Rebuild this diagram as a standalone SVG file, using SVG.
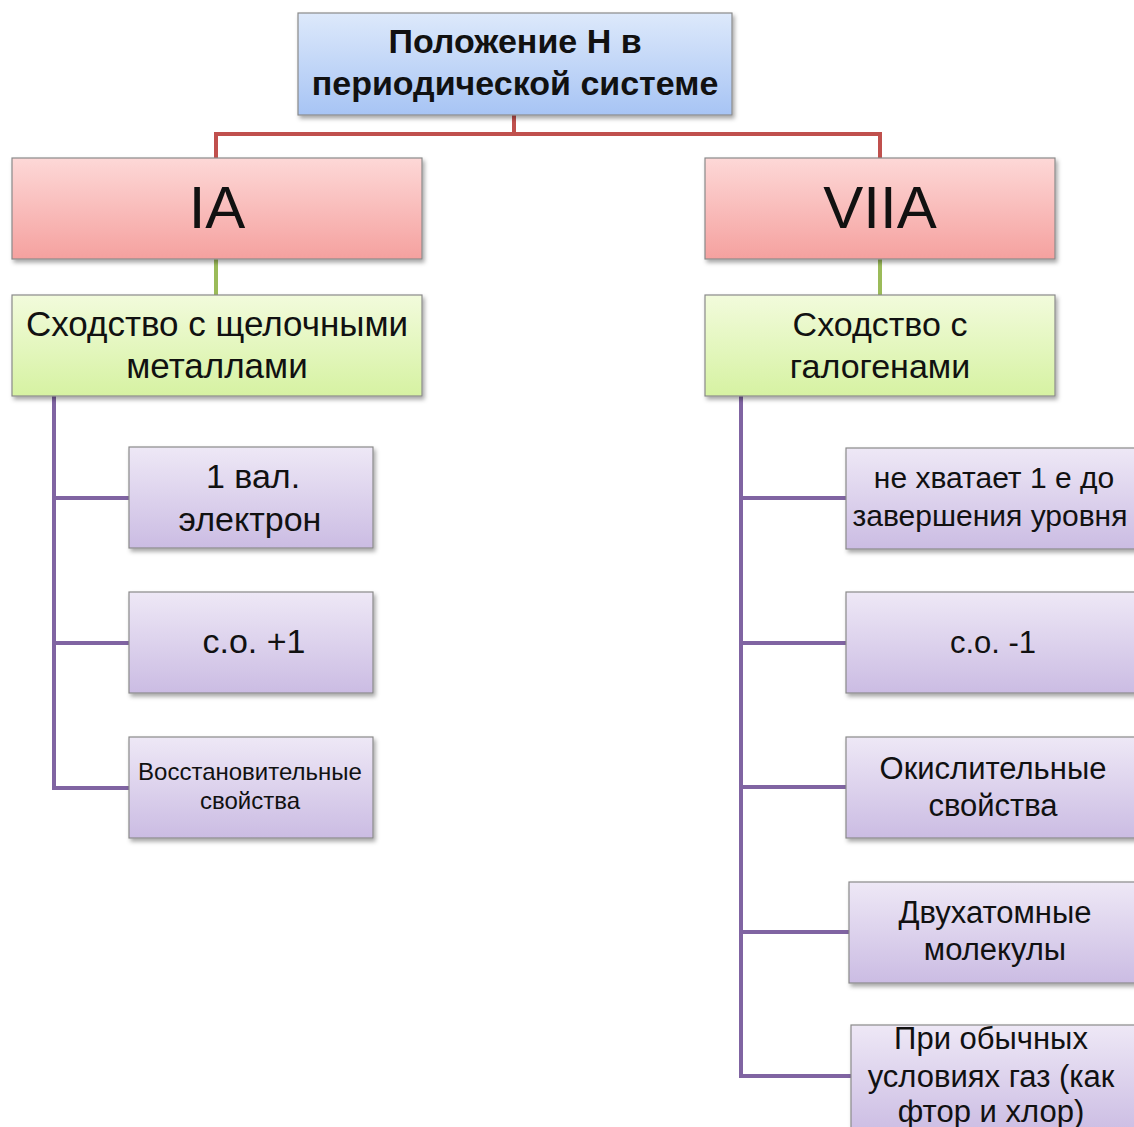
<svg xmlns="http://www.w3.org/2000/svg" width="1134" height="1127" viewBox="0 0 1134 1127">
<defs>
<linearGradient id="gBlue" x1="0" y1="0" x2="0" y2="1"><stop offset="0" stop-color="#dde9fb"/><stop offset="1" stop-color="#a7c4f4"/></linearGradient>
<linearGradient id="gRed" x1="0" y1="0" x2="0" y2="1"><stop offset="0" stop-color="#fdd8d7"/><stop offset="1" stop-color="#f5a19f"/></linearGradient>
<linearGradient id="gGreen" x1="0" y1="0" x2="0" y2="1"><stop offset="0" stop-color="#f2fbdc"/><stop offset="1" stop-color="#d6f2a2"/></linearGradient>
<linearGradient id="gPurple" x1="0" y1="0" x2="0" y2="1"><stop offset="0" stop-color="#eee8f6"/><stop offset="1" stop-color="#cbbce3"/></linearGradient>
<filter id="sh" x="-5%" y="-5%" width="115%" height="120%"><feDropShadow dx="2" dy="3" stdDeviation="2" flood-color="#000" flood-opacity="0.35"/></filter>
</defs>
<style>
.box{stroke:#8a8a8a;stroke-width:1.2;filter:url(#sh)}
.t{font-family:"Liberation Sans",Arial,sans-serif;fill:#111;text-anchor:middle}
.b{font-weight:bold}
.red{stroke:#c0504d;stroke-width:4;fill:none}
.grn{stroke:#9bbb59;stroke-width:4;fill:none}
.pur{stroke:#8064a2;stroke-width:4;fill:none}
</style>
<g id="connectors">
<polyline class="red" points="514,115 514,134 216,134 216,158"/>
<polyline class="red" points="514,134 880,134 880,158"/>
<line class="grn" x1="216" y1="259" x2="216" y2="295"/>
<line class="grn" x1="880" y1="259" x2="880" y2="295"/>
<polyline class="pur" points="54,396 54,788 129,788"/>
<line class="pur" x1="54" y1="498" x2="129" y2="498"/>
<line class="pur" x1="54" y1="643" x2="129" y2="643"/>
<polyline class="pur" points="741,396 741,1076 851,1076"/>
<line class="pur" x1="741" y1="498" x2="846" y2="498"/>
<line class="pur" x1="741" y1="643" x2="846" y2="643"/>
<line class="pur" x1="741" y1="787" x2="846" y2="787"/>
<line class="pur" x1="741" y1="932" x2="849" y2="932"/>
</g>
<g id="root">
<rect class="box" x="298" y="13" width="434" height="102" fill="url(#gBlue)"/>
<text class="t b" x="515" y="53" font-size="34">Положение Н в</text>
<text class="t b" x="515" y="95" font-size="34">периодической системе</text>
</g>
<g id="ia">
<rect class="box" x="12" y="158" width="410" height="101" fill="url(#gRed)"/>
<text class="t" x="217" y="228" font-size="60">IA</text>
</g>
<g id="viia">
<rect class="box" x="705" y="158" width="350" height="101" fill="url(#gRed)"/>
<text class="t" x="880" y="228" font-size="60">VIIA</text>
</g>
<g id="alkali">
<rect class="box" x="12" y="295" width="410" height="101" fill="url(#gGreen)"/>
<text class="t" x="217" y="336" font-size="35">Сходство с щелочными</text>
<text class="t" x="217" y="378" font-size="35">металлами</text>
</g>
<g id="halogen">
<rect class="box" x="705" y="295" width="350" height="101" fill="url(#gGreen)"/>
<text class="t" x="880" y="336" font-size="34">Сходство с</text>
<text class="t" x="880" y="378" font-size="34">галогенами</text>
</g>
<g id="l1">
<rect class="box" x="129" y="447" width="244" height="101" fill="url(#gPurple)"/>
<text class="t" x="253" y="488" font-size="34">1 вал.</text>
<text class="t" x="250" y="531" font-size="34">электрон</text>
</g>
<g id="l2">
<rect class="box" x="129" y="592" width="244" height="101" fill="url(#gPurple)"/>
<text class="t" x="254" y="653" font-size="34">с.о. +1</text>
</g>
<g id="l3">
<rect class="box" x="129" y="737" width="244" height="101" fill="url(#gPurple)"/>
<text class="t" x="250" y="780" font-size="24">Восстановительные</text>
<text class="t" x="250" y="809" font-size="24">свойства</text>
</g>
<g id="r1">
<rect class="box" x="846" y="448" width="296" height="101" fill="url(#gPurple)"/>
<text class="t" x="994" y="488" font-size="30">не хватает 1 е до</text>
<text class="t" x="990" y="526" font-size="30">завершения уровня</text>
</g>
<g id="r2">
<rect class="box" x="846" y="592" width="296" height="101" fill="url(#gPurple)"/>
<text class="t" x="993" y="653" font-size="31">с.о. -1</text>
</g>
<g id="r3">
<rect class="box" x="846" y="737" width="296" height="101" fill="url(#gPurple)"/>
<text class="t" x="993" y="779" font-size="31">Окислительные</text>
<text class="t" x="993" y="816" font-size="31">свойства</text>
</g>
<g id="r4">
<rect class="box" x="849" y="882" width="296" height="101" fill="url(#gPurple)"/>
<text class="t" x="995" y="923" font-size="31">Двухатомные</text>
<text class="t" x="995" y="960" font-size="31">молекулы</text>
</g>
<g id="r5">
<rect class="box" x="851" y="1025" width="296" height="110" fill="url(#gPurple)"/>
<text class="t" x="991" y="1049" font-size="31">При обычных</text>
<text class="t" x="991" y="1087" font-size="31">условиях газ (как</text>
<text class="t" x="991" y="1122" font-size="31">фтор и хлор)</text>
</g>
</svg>
